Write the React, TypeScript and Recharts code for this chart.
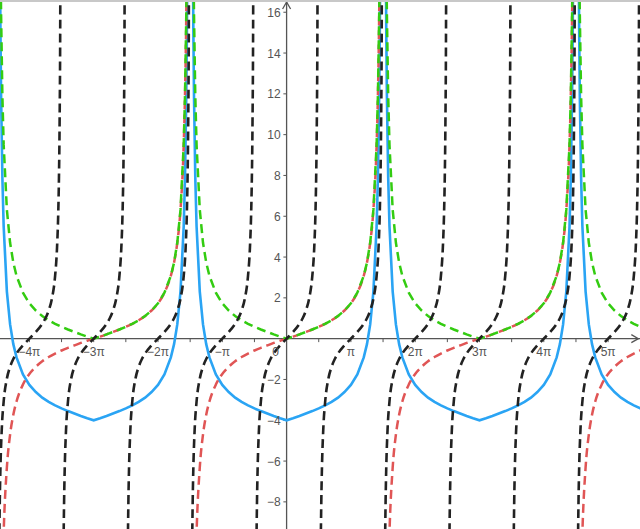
import React from 'react';
import { LineChart, Line, XAxis, YAxis, ReferenceLine, ReferenceDot } from 'recharts';

// x values are in multiples of π
const xDomain = [-4.457, 5.496];
const yDomain = [-9.33, 16.6];

// black dashed branches, one per period
const blackCenters = [-4, -3, -2, -1, 0, 1, 2, 3, 4, 5];
const blackOffsets = [-0.495, -0.49, -0.48, -0.47, -0.46, -0.45, -0.43, -0.4, -0.35, -0.3, -0.25, -0.2, -0.1, 0, 0.1, 0.2, 0.25, 0.3, 0.35, 0.4, 0.43, 0.45, 0.46, 0.47, 0.48, 0.49, 0.495];
const blackValues = [-63.7, -31.8, -15.9, -10.6, -7.92, -6.31, -4.47, -3.08, -1.96, -1.38, -1, -0.727, -0.325, 0, 0.325, 0.727, 1, 1.38, 1.96, 3.08, 4.47, 6.31, 7.92, 10.6, 15.9, 31.8, 63.7];

// red / green / blue branches, period 3π
const thirdCenters = [-3, 0, 3, 6];
const thirdOffsets = [-1.49, -1.48, -1.47, -1.46, -1.45, -1.44, -1.42, -1.4, -1.35, -1.3, -1.25, -1.2, -1.1, -1.0, -0.9, -0.8, -0.7, -0.6, -0.5, -0.4, -0.3, -0.2, -0.1, 0, 0.1, 0.2, 0.3, 0.4, 0.5, 0.6, 0.7, 0.8, 0.9, 1.0, 1.1, 1.2, 1.25, 1.3, 1.35, 1.4, 1.42, 1.44, 1.45, 1.46, 1.47, 1.48, 1.49];
const redValues = [-95.5, -47.7, -31.8, -23.9, -19.1, -15.9, -11.9, -9.51, -6.31, -4.7, -3.73, -3.08, -2.25, -1.73, -1.38, -1.11, -0.9, -0.73, -0.58, -0.45, -0.33, -0.21, -0.1, 0, 0.1, 0.21, 0.33, 0.45, 0.58, 0.73, 0.9, 1.11, 1.38, 1.73, 2.25, 3.08, 3.73, 4.7, 6.31, 9.51, 11.9, 15.9, 19.1, 23.9, 31.8, 47.7, 95.5];
const greenValues = [95.5, 47.7, 31.8, 23.9, 19.1, 15.9, 11.9, 9.51, 6.31, 4.7, 3.73, 3.08, 2.25, 1.73, 1.38, 1.11, 0.9, 0.73, 0.58, 0.45, 0.33, 0.21, 0.1, 0, 0.1, 0.21, 0.33, 0.45, 0.58, 0.73, 0.9, 1.11, 1.38, 1.73, 2.25, 3.08, 3.73, 4.7, 6.31, 9.51, 11.9, 15.9, 19.1, 23.9, 31.8, 47.7, 95.5];
const blueValues = [91.5, 43.7, 27.8, 19.9, 15.1, 11.9, 7.9, 5.51, 2.31, 0.7, -0.27, -0.92, -1.75, -2.27, -2.62, -2.89, -3.1, -3.27, -3.42, -3.55, -3.67, -3.79, -3.9, -4, -3.9, -3.79, -3.67, -3.55, -3.42, -3.27, -3.1, -2.89, -2.62, -2.27, -1.75, -0.92, -0.27, 0.7, 2.31, 5.51, 7.9, 11.9, 15.1, 19.9, 27.8, 43.7, 91.5];

// axes
const xTicks = [-4, -3.5, -3, -2.5, -2, -1.5, -1, -0.5, 0.5, 1, 1.5, 2, 2.5, 3, 3.5, 4, 4.5, 5];
const xLabelValues = [-4, -3, -2, -1, 0, 1, 2, 3, 4, 5];
const xLabelTexts = ['−4π', '−3π', '−2π', '−π', '0', 'π', '2π', '3π', '4π', '5π'];
const yLabelValues = [-8, -6, -4, -2, 2, 4, 6, 8, 10, 12, 14, 16];

const AXIS = '#555555';
const FONT = '"Liberation Sans", Arial, sans-serif';

const branch = (c: number, offs: number[], vals: number[]) =>
  offs.map((o, i) => ({ x: c + o, y: vals[i] }));

export default function App() {
  return (
    <div style={{ position: 'absolute', left: 0, top: 0, width: 640, height: 529, background: '#fff' }}>
      <LineChart width={640} height={529} margin={{ top: 0, right: 0, bottom: 0, left: 0 }}>
        <XAxis type="number" dataKey="x" domain={xDomain} allowDataOverflow hide />
        <YAxis type="number" dataKey="y" domain={yDomain} allowDataOverflow hide />

        <ReferenceLine y={0} stroke={AXIS} strokeWidth={1.3} />
        <ReferenceLine x={0} stroke={AXIS} strokeWidth={1.3} />
        {xTicks.map((t) => (
          <ReferenceLine key={'xt' + t} segment={[{ x: t, y: 0 }, { x: t, y: -0.17 }]} stroke={AXIS} strokeWidth={1} />
        ))}
        {yLabelValues.map((v) => (
          <ReferenceLine key={'yt' + v} segment={[{ x: 0, y: v }, { x: -0.05, y: v }]} stroke={AXIS} strokeWidth={1} />
        ))}

        {thirdCenters.map((c) => (
          <Line key={'b' + c} data={branch(c, thirdOffsets, blueValues)} dataKey="y" type="linear"
            stroke="#2aa4f4" strokeWidth={2.6} dot={false} activeDot={false} isAnimationActive={false} />
        ))}
        {thirdCenters.map((c) => (
          <Line key={'r' + c} data={branch(c, thirdOffsets, redValues)} dataKey="y" type="monotone"
            stroke="#e05555" strokeWidth={2.5} strokeDasharray="9 5" strokeDashoffset={4} dot={false} activeDot={false} isAnimationActive={false} />
        ))}
        {thirdCenters.map((c) => (
          <Line key={'g' + c} data={branch(c, thirdOffsets, greenValues)} dataKey="y" type="linear"
            stroke="#33cc11" strokeWidth={2.5} strokeDasharray="9 5" dot={false} activeDot={false} isAnimationActive={false} />
        ))}
        {blackCenters.map((c) => (
          <Line key={'k' + c} data={branch(c, blackOffsets, blackValues)} dataKey="y" type="monotone"
            stroke="#222222" strokeWidth={2.6} strokeDasharray="9 5" dot={false} activeDot={false} isAnimationActive={false} />
        ))}

        {xLabelValues.map((v, i) => (
          <ReferenceDot key={'xl' + v} x={v} y={0} r={0}
            shape={(p: any) => (
              <text x={p.cx + (v === 0 ? -11 : 0)} y={p.cy + 17} textAnchor="middle" fill={AXIS} fontSize={12} fontFamily={FONT}>
                {xLabelTexts[i]}
              </text>
            )} />
        ))}
        {yLabelValues.map((v) => (
          <ReferenceDot key={'yl' + v} x={0} y={v} r={0}
            shape={(p: any) => (
              <text x={p.cx - 6} y={p.cy + 4.5} textAnchor="end" fill={AXIS} fontSize={12} fontFamily={FONT}>
                {v < 0 ? '−' + Math.abs(v) : String(v)}
              </text>
            )} />
        ))}
        <ReferenceDot x={0} y={16.5} r={0}
          shape={(p: any) => (
            <path d={`M${p.cx - 4},${p.cy + 7} L${p.cx},${p.cy} L${p.cx + 4},${p.cy + 7}`} fill="none" stroke={AXIS} strokeWidth={1.3} />
          )} />
        <ReferenceDot x={5.47} y={0} r={0}
          shape={(p: any) => (
            <path d={`M${p.cx - 7},${p.cy - 4} L${p.cx},${p.cy} L${p.cx - 7},${p.cy + 4}`} fill="none" stroke={AXIS} strokeWidth={1.3} />
          )} />
      </LineChart>
      <div style={{ position: 'absolute', left: 0, top: 0, width: 640, height: 2, background: '#c8c8c8' }} />
    </div>
  );
}
